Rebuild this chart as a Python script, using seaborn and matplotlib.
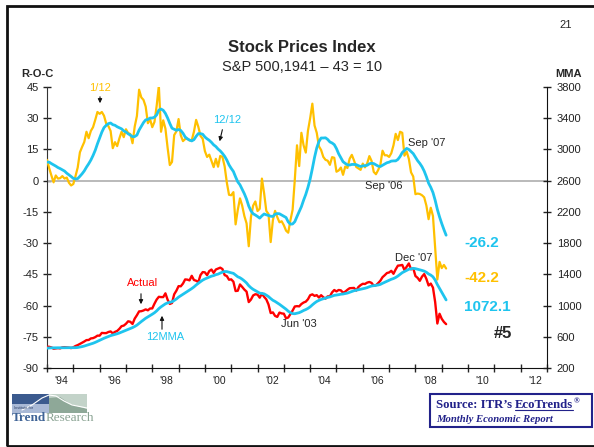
import numpy as np
import pandas as pd
import matplotlib
matplotlib.use("Agg")
import matplotlib.pyplot as plt
import seaborn as sns
from matplotlib.patches import Rectangle, Polygon
from matplotlib.lines import Line2D

# 1 DONNEES (mensuelles, janv. 1994 -> mars 2009)
START_YEAR = 1994

# S&P 500, moyenne mensuelle (axe de droite)
actual = [
    473.0, 471.6, 463.8, 447.2, 450.9, 454.8, 451.4, 464.2, 467.0, 463.8, 461.0, 455.2,
    465.3, 481.9, 493.2, 507.9, 523.8, 539.4, 557.4, 559.1, 578.8, 582.9, 595.5, 614.6,
    614.4, 649.5, 647.1, 647.2, 661.2, 668.5, 644.1, 662.7, 674.9, 701.5, 735.7, 743.3,
    766.2, 798.4, 792.2, 763.9, 833.1, 876.3, 925.3, 927.7, 937.0, 951.2, 938.9, 962.4,
    963.4, 1023.7, 1076.8, 1112.2, 1108.4, 1108.4, 1156.6, 1074.6, 1020.6, 1032.5, 1144.4, 1190.1,
    1248.8, 1246.6, 1281.7, 1334.8, 1332.1, 1322.6, 1381.0, 1327.5, 1318.2, 1300.0, 1391.0, 1428.7,
    1425.6, 1388.9, 1442.2, 1461.4, 1418.5, 1462.0, 1473.0, 1485.5, 1468.1, 1390.1, 1378.0, 1330.9,
    1335.6, 1305.8, 1185.9, 1189.8, 1270.4, 1238.7, 1204.5, 1178.5, 1044.6, 1076.6, 1129.7, 1144.9,
    1140.2, 1100.7, 1153.8, 1112.0, 1079.3, 1014.0, 903.6, 912.6, 867.8, 854.6, 909.9, 899.2,
    895.8, 837.0, 846.6, 890.0, 936.0, 988.0, 992.5, 989.5, 1019.4, 1038.7, 1049.9, 1080.6,
    1132.5, 1143.4, 1124.0, 1133.1, 1102.8, 1132.8, 1105.9, 1088.9, 1117.7, 1118.1, 1168.9, 1199.2,
    1181.4, 1199.6, 1194.9, 1164.4, 1178.3, 1202.3, 1222.2, 1224.3, 1225.9, 1192.0, 1237.4, 1262.1,
    1278.7, 1276.7, 1293.7, 1302.2, 1290.0, 1253.1, 1260.2, 1287.2, 1317.8, 1363.4, 1388.6, 1416.4,
    1424.2, 1444.8, 1407.0, 1463.7, 1511.1, 1514.5, 1520.7, 1454.6, 1497.1, 1539.7, 1463.4, 1479.2,
    1378.8, 1354.9, 1316.9, 1370.5, 1403.2, 1341.3, 1257.3, 1281.5, 1230.0, 1045.0, 770.0, 895.0,
    830.0, 790.0, 762.0,
]

# moyenne mobile 12 mois (axe de droite)
mma12 = [
    454.6, 457.0, 458.2, 458.5, 459.0, 459.6, 459.9, 460.7, 461.4, 461.4, 461.2, 460.3,
    459.7, 460.5, 463.0, 468.0, 474.1, 481.2, 490.0, 497.9, 507.2, 517.1, 528.4, 541.6,
    554.1, 568.0, 580.9, 592.5, 603.9, 614.7, 621.9, 630.5, 638.5, 648.4, 660.1, 670.8,
    683.5, 695.9, 708.0, 717.7, 732.0, 749.3, 772.8, 794.9, 816.7, 837.5, 854.5, 872.7,
    889.1, 907.9, 931.6, 960.7, 983.6, 1003.0, 1022.2, 1034.5, 1041.4, 1048.2, 1065.3, 1084.3,
    1108.1, 1126.7, 1143.7, 1162.3, 1180.9, 1198.8, 1217.5, 1238.5, 1263.3, 1285.6, 1306.2, 1326.1,
    1340.8, 1352.7, 1366.0, 1376.6, 1383.8, 1395.4, 1403.1, 1416.2, 1428.7, 1436.2, 1435.2, 1427.0,
    1419.5, 1412.6, 1391.2, 1368.6, 1356.3, 1337.7, 1315.3, 1289.7, 1254.4, 1228.3, 1207.6, 1192.1,
    1175.8, 1158.7, 1156.0, 1149.6, 1133.6, 1114.9, 1089.8, 1067.7, 1052.9, 1034.4, 1016.1, 995.6,
    975.3, 953.3, 927.7, 909.2, 897.3, 895.1, 902.5, 908.9, 921.6, 936.9, 948.6, 963.7,
    983.4, 1008.9, 1032.1, 1052.3, 1066.2, 1078.3, 1087.7, 1096.0, 1104.2, 1110.8, 1120.7, 1130.6,
    1134.7, 1139.4, 1145.3, 1147.9, 1154.2, 1160.0, 1169.7, 1180.9, 1190.0, 1196.1, 1201.8, 1207.1,
    1215.2, 1221.6, 1229.8, 1241.3, 1250.6, 1254.9, 1258.0, 1263.3, 1270.9, 1285.2, 1297.8, 1310.7,
    1322.8, 1336.8, 1346.2, 1359.7, 1378.1, 1399.9, 1421.6, 1435.6, 1450.5, 1465.2, 1471.4, 1476.7,
    1472.9, 1465.4, 1457.9, 1450.1, 1441.1, 1426.7, 1404.7, 1390.3, 1368.0, 1326.8, 1269.0, 1220.3,
    1170.0, 1121.0, 1072.1,
]

# taux de variation 1/12 (axe de gauche)
roc_1_12 = [
    10.0, 6.0, 2.5, -0.8, 2.5, 1.0, 1.2, 2.2, 1.0, 1.5, -1.0, -2.3,
    -1.6, 2.2, 6.3, 13.6, 16.2, 18.6, 23.5, 20.4, 23.9, 25.7, 29.2, 33.0,
    32.1, 33.0, 31.2, 27.4, 26.2, 23.9, 15.6, 18.5, 16.6, 20.3, 23.5, 20.9,
    24.7, 22.9, 22.4, 18.0, 26.0, 31.1, 43.7, 40.0, 38.8, 35.6, 27.6, 29.5,
    25.7, 28.2, 35.9, 45.6, 23.5, 29.0, 25.0, 15.8, 7.5, 9.0, 21.9, 23.7,
    29.6, 21.8, 19.0, 20.0, 20.2, 19.3, 19.4, 23.5, 29.2, 25.9, 21.5, 20.1,
    14.2, 11.4, 12.5, 9.5, 6.5, 10.5, 6.7, 11.9, 11.4, 6.9, -0.9, -6.8,
    -7.0, -5.5, -21.0, -14.0, -8.5, -12.0, -17.0, -20.5, -31.5, -17.5, -12.0, -10.0,
    -14.6, -13.5, 1.0, -6.0, -14.5, -16.0, -29.5, -19.0, -14.5, -17.5, -20.0, -19.5,
    -21.4, -24.0, -25.0, -19.0, -14.0, 0.5, 17.0, 7.0, 23.0, 17.0, 13.5, 24.0,
    30.0, 37.0, 26.5, 23.0, 16.5, 14.7, 11.4, 10.0, 9.6, 7.6, 11.3, 11.0,
    4.3, 4.9, 6.3, 2.8, 6.8, 6.1, 10.5, 12.4, 9.7, 6.6, 5.9, 5.2,
    8.2, 6.4, 8.3, 11.8, 9.5, 4.2, 3.1, 5.1, 7.5, 14.4, 12.2, 12.2,
    11.4, 13.2, 17.0, 22.5, 19.5, 23.5, 23.0, 12.0, 14.0, 10.5, 4.0, 2.0,
    -6.5, -6.2, -6.4, -7.0, -8.0, -12.0, -18.5, -13.0, -17.0, -32.0, -47.5, -39.0,
    -42.0, -40.5, -42.2,
]

# taux de variation 12/12 (axe de gauche)
roc_12_12 = [
    8.9, 8.9, 8.2, 7.6, 7.0, 6.3, 5.8, 5.2, 4.6, 3.6, 2.8, 2.0,
    1.1, 0.8, 1.0, 2.1, 3.3, 4.7, 6.5, 8.1, 9.9, 12.1, 14.6, 17.7,
    20.5, 23.3, 25.5, 26.6, 27.4, 27.7, 26.9, 26.6, 25.9, 25.4, 24.9, 23.9,
    23.4, 22.5, 21.9, 21.1, 21.2, 21.9, 24.3, 26.1, 27.9, 29.2, 29.4, 30.1,
    30.1, 30.5, 31.6, 33.9, 34.4, 33.8, 32.3, 30.1, 27.5, 25.2, 24.7, 24.2,
    24.6, 24.1, 22.8, 21.0, 20.1, 19.5, 19.1, 19.7, 21.3, 22.6, 22.6, 22.3,
    21.0, 20.1, 19.4, 18.4, 17.2, 16.4, 15.2, 14.3, 13.1, 11.7, 9.9, 7.6,
    5.9, 4.4, 1.8, -0.6, -2.0, -4.1, -6.3, -8.9, -12.2, -14.5, -15.9, -16.5,
    -17.2, -18.0, -16.9, -16.0, -16.4, -16.7, -17.1, -17.2, -16.1, -15.8, -15.9, -16.5,
    -17.1, -17.7, -19.8, -20.9, -20.8, -19.7, -17.2, -14.9, -12.5, -9.4, -6.6, -3.2,
    0.8, 5.8, 11.2, 15.7, 18.8, 20.5, 20.5, 20.6, 19.8, 18.6, 18.1, 17.3,
    15.4, 12.9, 11.0, 9.1, 8.3, 7.6, 7.5, 7.8, 7.8, 7.7, 7.2, 6.8,
    7.1, 7.2, 7.4, 8.1, 8.4, 8.2, 7.6, 7.0, 6.8, 7.4, 8.0, 8.6,
    8.9, 9.4, 9.5, 9.5, 10.2, 11.6, 13.5, 14.5, 15.5, 15.0, 14.0, 13.0,
    11.3, 9.6, 8.3, 6.7, 4.6, 1.9, -1.2, -3.2, -5.7, -9.4, -13.8, -17.4,
    -20.6, -23.5, -26.2,
]

ROC_TICKS = [-90, -75, -60, -45, -30, -15, 0, 15, 30, 45]
MMA_TICKS = [200, 600, 1000, 1400, 1800, 2200, 2600, 3000, 3400, 3800]
LABEL_YEARS = [1994, 1996, 1998, 2000, 2002, 2004, 2006, 2008, 2010, 2012]
YEAR_LABELS = ["'94", "'96", "'98", "'00", "'02", "'04", "'06", "'08", "'10", "'12"]

GOLD = "#FFC000"
CYAN = "#1EC4EE"
RED = "#FF0000"
NAVY = "#22228A"

W, H = 594, 447

df = pd.DataFrame({
    "year": START_YEAR + np.arange(len(actual)) / 12,
    "actual": actual,
    "mma12": mma12,
    "roc_1_12": roc_1_12,
    "roc_12_12": roc_12_12,
})

# 2 GRAPHIQUE
sns.set_style("ticks")
plt.rcParams["font.family"] = ["Liberation Sans", "DejaVu Sans"]
plt.rcParams["axes.unicode_minus"] = False
SERIF = ["Liberation Serif", "DejaVu Serif"]

fig = plt.figure(figsize=(W / 100, H / 100), dpi=100)
ax = fig.add_axes([47 / W, 1 - 368 / H, 500 / W, 281 / H])
ax2 = ax.twinx()

ax.axhline(0, color="#b4b4b4", lw=1.3, zorder=1)
sns.lineplot(data=df, x="year", y="roc_1_12", ax=ax, color=GOLD, lw=1.6, zorder=3)
sns.lineplot(data=df, x="year", y="roc_12_12", ax=ax, color=CYAN, lw=2.0, zorder=4)
sns.lineplot(data=df, x="year", y="actual", ax=ax2, color=RED, lw=1.7, zorder=3)
sns.lineplot(data=df, x="year", y="mma12", ax=ax2, color=CYAN, lw=2.0, zorder=4)

ax.set_xlim(1994, 2013)
ax.set_ylim(-90, 45)
ax2.set_ylim(200, 3800)
for a in (ax, ax2):
    a.set_xlabel("")
    a.set_ylabel("")

for s in ("top", "right"):
    ax.spines[s].set_visible(False)
ax.spines["left"].set_color("#333333")
ax.spines["bottom"].set_color("#111111")
for s in ("top", "left", "bottom"):
    ax2.spines[s].set_visible(False)
ax2.spines["right"].set_color("#111111")

ax.set_yticks(ROC_TICKS)
ax.tick_params(axis="y", direction="inout", length=6, width=1, pad=3, labelsize=8, colors="#222222")
ax2.set_yticks(MMA_TICKS)
ax2.tick_params(axis="y", direction="inout", length=6, width=1, pad=4, labelsize=8, colors="#222222")

ax.set_xticks(range(1994, 2014))
ax.set_xticklabels([])
ax.tick_params(axis="x", which="major", direction="inout", length=6, width=1)
ax.set_xticks([y + 0.55 for y in LABEL_YEARS], minor=True)
ax.set_xticklabels(YEAR_LABELS, minor=True)
ax.tick_params(axis="x", which="minor", length=0, pad=6, labelsize=7.5, labelcolor="#222222")


def ftext(x, y, s, **kw):
    kw.setdefault("ha", "center")
    kw.setdefault("va", "center")
    return fig.text(x / W, 1 - y / H, s, **kw)


def arrow(x0, y0, x1, y1):
    fig.add_artist(matplotlib.patches.FancyArrowPatch(
        (x0 / W, 1 - y0 / H), (x1 / W, 1 - y1 / H), transform=fig.transFigure,
        arrowstyle="-|>", mutation_scale=6, lw=0.8, color="#111111"))


# titres
ftext(302, 48, "Stock Prices Index", size=12, weight="bold")
ftext(302, 67, "S&P 500,1941 \u2013 43 = 10", size=10.5)
ftext(566, 25, "21", size=8)
ftext(37, 74, "R-O-C", size=8, weight="bold")
ftext(569, 74, "MMA", size=8, weight="bold")

# annotations
ftext(100, 88, "1/12", size=8, color=GOLD)
arrow(100, 94, 100, 106)
ftext(227, 120, "12/12", size=8, color=CYAN)
arrow(223, 127, 219, 144)
ftext(408, 143, "Sep '07", size=8, ha="left")
ftext(384, 186, "Sep '06", size=8)
ftext(143, 283, "Actual", size=8, color=RED)
arrow(141, 291, 141, 307)
ftext(165, 337, "12MMA", size=8, color=CYAN)
arrow(162, 332, 162, 313)
ftext(299, 324, "Jun '03", size=8)
ftext(414, 258, "Dec '07", size=8)
ftext(464, 243, "-26.2", size=11, weight="bold", color=CYAN, ha="left")
ftext(464, 278, "-42.2", size=11, weight="bold", color=GOLD, ha="left")
ftext(464, 307, "1072.1", size=11, weight="bold", color=CYAN, ha="left")
ftext(494, 334, "#5", size=12, weight="bold", ha="left")

# cadre de la page
fig.add_artist(Rectangle((7 / W, 1 - 446 / H), 600 / W, 440 / H, transform=fig.transFigure,
                         fill=False, ec="#111111", lw=2))

# logo
def frect(x0, y0, x1, y1, c):
    fig.add_artist(Rectangle((x0 / W, 1 - y1 / H), (x1 - x0) / W, (y1 - y0) / H,
                             transform=fig.transFigure, fc=c, ec="none"))


frect(12, 394, 49, 404, "#3b5a8e")
frect(12, 404, 49, 413, "#a9b9d6")
frect(49, 394, 87, 413, "#c3d3c9")
fig.add_artist(Polygon([(49 / W, 1 - 413 / H), (49 / W, 1 - 398 / H), (60 / W, 1 - 397 / H),
                        (70 / W, 1 - 404 / H), (87 / W, 1 - 409 / H), (87 / W, 1 - 413 / H)],
                       closed=True, transform=fig.transFigure, fc="#8ea898", ec="none"))
cx = np.array([22, 32, 42, 49, 56, 64, 72, 87])
cy = np.array([410, 405, 398, 395, 396, 401, 405, 408])
fig.add_artist(Line2D(cx / W, 1 - cy / H, transform=fig.transFigure, color="white", lw=0.8))
ftext(14, 408, "Institute for", size=2.8, color="#2b3f66", ha="left")

fig.canvas.draw()
r = fig.canvas.get_renderer()
t = ftext(12, 418, "Trend", size=9.5, family=SERIF, weight="bold", color="#3f6396", ha="left")
x_end = t.get_window_extent(r).x1
fig.text((x_end - 0.5) / W, 1 - 418 / H, "Research", size=9.5, family=SERIF, color="#8aa393",
         ha="left", va="center")

# encadre source
fig.add_artist(Rectangle((430 / W, 1 - 427 / H), 162 / W, 33 / H, transform=fig.transFigure,
                         fill=False, ec=NAVY, lw=1.5))
t1 = ftext(436, 405, "Source: ITR\u2019s", size=9.2, family=SERIF, weight="bold", color=NAVY, ha="left")
x1 = t1.get_window_extent(r).x1 + 3
t2 = fig.text(x1 / W, 1 - 405 / H, "EcoTrends", size=9.2, family=SERIF, weight="bold",
              color=NAVY, ha="left", va="center")
bb = t2.get_window_extent(r)
fig.add_artist(Line2D([bb.x0 / W, bb.x1 / W], [(bb.y0 + 1) / H, (bb.y0 + 1) / H],
                      transform=fig.transFigure, color=NAVY, lw=0.8))
fig.text((bb.x1 + 0.5) / W, 1 - 401 / H, "\u00ae", size=5.5, family=SERIF, weight="bold",
         color=NAVY, ha="left", va="center")
ftext(436, 419, "Monthly Economic Report", size=7.7, family=SERIF, weight="bold",
      style="italic", color=NAVY, ha="left")

fig.savefig("out.png", dpi=100)
